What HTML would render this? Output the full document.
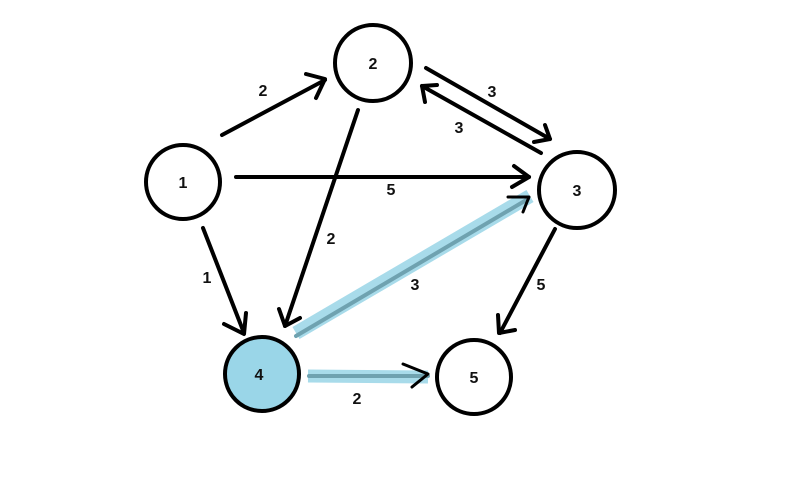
<!DOCTYPE html>
<html><head><meta charset="utf-8"><style>
html,body{margin:0;padding:0;background:#fff;}
svg{display:block}
text{font-family:"Liberation Sans","DejaVu Sans",sans-serif;font-size:16px;font-weight:bold;fill:#111;text-anchor:middle;}
</style></head><body>
<svg width="800" height="500" viewBox="0 0 800 500" xmlns="http://www.w3.org/2000/svg">
<g stroke="#000" stroke-width="4" fill="none" stroke-linecap="round" stroke-linejoin="round">
<!-- highlighted edges -->
<path d="M296,333 L530,196" stroke="#a8dbea" stroke-width="14" stroke-linecap="butt"/>
<path d="M296,336 L528,199" stroke="#6fa2b0" stroke-width="4"/>
<path d="M308,376 L428,377" stroke="#a8dbea" stroke-width="13" stroke-linecap="butt"/>
<path d="M309,376 L428,376" stroke="#6fa2b0" stroke-width="4"/>
<polyline points="508,197 529,197 523,212" stroke-width="3"/>
<polyline points="403,364 428,374 412,387" stroke-width="3"/>
<!-- circles -->
<circle cx="183" cy="182" r="37"/>
<circle cx="373" cy="63" r="38"/>
<circle cx="577" cy="190" r="38"/>
<circle cx="262" cy="374" r="37" fill="#9ad6e8"/>
<circle cx="474" cy="377" r="37"/>
<!-- edges -->
<line x1="222" y1="135" x2="325" y2="80"/>
<polyline points="306,74 325,79 316,98"/>
<line x1="426" y1="68" x2="550" y2="139"/>
<polyline points="545,125 550,139 534,142"/>
<line x1="541" y1="153" x2="422" y2="86"/>
<polyline points="425,102 422,86 437,85"/>
<line x1="236" y1="177" x2="529" y2="177"/>
<polyline points="514,166 529,177 512,187"/>
<line x1="358" y1="110" x2="285" y2="326"/>
<polyline points="279,309 285,326 300,318"/>
<line x1="203" y1="228" x2="244" y2="333"/>
<polyline points="224,324 244,334 246,313"/>
<line x1="555" y1="229" x2="500" y2="333"/>
<polyline points="498,315 499,333 515,330"/>
</g>
<text x="263" y="96">2</text>
<text x="492" y="97">3</text>
<text x="459" y="133">3</text>
<text x="391" y="195">5</text>
<text x="331" y="244">2</text>
<text x="207" y="283">1</text>
<text x="415" y="290">3</text>
<text x="541" y="290">5</text>
<text x="357" y="404">2</text>
<text x="183" y="188">1</text>
<text x="373" y="69">2</text>
<text x="577" y="196">3</text>
<text x="259" y="380">4</text>
<text x="474" y="383">5</text>
</svg>
</body></html>
